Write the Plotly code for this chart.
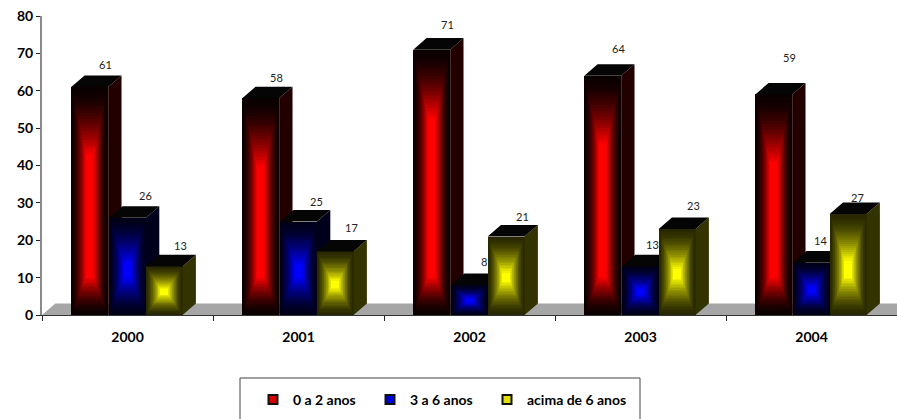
import plotly.graph_objects as go

years = ["2000", "2001", "2002", "2003", "2004"]
series_names = ["0 a 2 anos", "3 a 6 anos", "acima de 6 anos"]
age_0_2 = [61, 58, 71, 64, 59]
age_3_6 = [26, 25, 8, 13, 14]
age_6_up = [13, 17, 21, 23, 27]
y_ticks = [0, 10, 20, 30, 40, 50, 60, 70, 80]

# styling
all_values = [age_0_2, age_3_6, age_6_up]
ramps = [
    [(10, 0, 0), (255, 0, 0)],
    [(0, 0, 25), (0, 0, 255)],
    [(40, 40, 0), (255, 255, 0)],
]
side_colors = ["#220000", "#00001c", "#333300"]
top_color = "#050505"
OFFSETS = [-0.221, 0.0, 0.214]   # bar centre from category centre
BAR_W = 0.216
DX, DY = 0.078, 3.1               # pseudo-3D depth, in axis units
LEVELS = 24
LABEL_DX = [0.09, 0.105, 0.095]
LABEL_SHIFT = [
    [1, 1, 0], [0, -1, 3], [4, 3, -1], [6, 1, 2], [16, 1, -4],
]
LABEL_XSHIFT = {(4, 2): -7, (4, 1): -9, (3, 1): -6, (2, 1): -3}
LEGEND_WIDTHS = [72, 72, 115]

fig = go.Figure()
cx = [i + 0.5 for i in range(len(years))]
AX = [("x", "y"), ("x2", "y2"), ("x3", "y3")]

def mix(a, b, t):
    return "rgb(%d,%d,%d)" % tuple(round(a[i] + (b[i] - a[i]) * t) for i in range(3))

for s, vals in enumerate(all_values):
    xa, ya = AX[s]
    xc = [c + OFFSETS[s] for c in cx]
    # front face: nested bars form the glow
    for k in range(LEVELS):
        t = k / (LEVELS - 1)
        low = [min(v * 0.42, 10) * t for v in vals]
        high = [min(v * 0.46, 18) * t for v in vals]
        fig.add_trace(go.Bar(x=xc, y=[v - l - h for v, l, h in zip(vals, low, high)], base=low, xaxis=xa, yaxis=ya,
                             width=BAR_W * (1 - 0.8 * t), marker=dict(color=mix(ramps[s][0], ramps[s][1], t ** 1.6), line=dict(width=0)),
                             showlegend=False, hoverinfo="skip"))
    # side + top faces
    for x0, v in zip(xc, vals):
        xr = x0 + BAR_W / 2
        xl = x0 - BAR_W / 2
        fig.add_trace(go.Scatter(x=[xr, xr + DX, xr + DX, xr, xr], y=[0, DY, v + DY, v, 0], mode="lines", xaxis=xa, yaxis=ya,
                                 fill="toself", fillcolor=side_colors[s], line=dict(width=0),
                                 hoverinfo="skip", showlegend=False))
        fig.add_trace(go.Scatter(x=[xl, xl + DX, xr + DX, xr, xl], y=[v, v + DY, v + DY, v, v], mode="lines", xaxis=xa, yaxis=ya,
                                 fill="toself", fillcolor=top_color, line=dict(width=0),
                                 hoverinfo="skip", showlegend=False))
    # legend entry
    fig.add_trace(go.Scatter(x=[None], y=[None], mode="markers", name=series_names[s], xaxis=xa, yaxis=ya,
                             legendwidth=LEGEND_WIDTHS[s],
                             marker=dict(symbol="square", size=9, color=mix(ramps[s][0], ramps[s][1], 0.85),
                                         line=dict(color="#111", width=2))))

# data labels
for s, vals in enumerate(all_values):
    for i, v in enumerate(vals):
        fig.add_annotation(x=cx[i] + OFFSETS[s] + LABEL_DX[s], y=v + DY, text=str(v), showarrow=False,
                           xshift=LABEL_XSHIFT.get((i, s), 0),
                           yanchor="bottom", yshift=1 + LABEL_SHIFT[i][s], font=dict(family="Lato", size=11, color="#222"))

# floor
fig.add_shape(type="path", xref="x", yref="y", path=f"M 0 0 L {DX} {DY} L 5 {DY} L 5 0 Z",
              fillcolor="#a6a6a6", line=dict(width=0), layer="below")
# legend frame
fig.add_shape(type="rect", xref="paper", yref="paper", x0=198 / 855, x1=598 / 855,
              y0=(315 - 430) / 299, y1=(315 - 378) / 299, line=dict(color="#444", width=1), fillcolor="white", layer="below")

fig.update_layout(
    width=897, height=419, margin=dict(l=42, r=0, t=16, b=104),
    paper_bgcolor="white", plot_bgcolor="rgba(0,0,0,0)", barmode="overlay", bargap=0,
    font=dict(family="Lato", color="black"),
    xaxis=dict(range=[0, 5], tickmode="array", tickvals=cx, ticktext=years, ticks="", ticklen=0,
               tickfont=dict(family="Lato", size=14, weight="bold"), showgrid=False, zeroline=False,
               showline=True, linecolor="#333", linewidth=1, ticklabelstandoff=9,
               minor=dict(tickmode="array", tickvals=list(range(6)), ticks="outside", ticklen=5, tickcolor="#222", tickwidth=1, showgrid=False)),
    yaxis=dict(range=[0, 80], tickmode="array", tickvals=y_ticks, ticks="outside", ticklen=4, tickcolor="#222",
               tickfont=dict(family="Lato", size=14, weight="bold"), showgrid=False, zeroline=False,
               showline=True, linecolor="#8a8a8a", linewidth=2),
    xaxis2=dict(overlaying="x", matches="x", visible=False),
    yaxis2=dict(overlaying="y", matches="y", visible=False),
    xaxis3=dict(overlaying="x", matches="x", visible=False),
    yaxis3=dict(overlaying="y", matches="y", visible=False),
    legend=dict(orientation="h", xanchor="left", yanchor="middle", x=211 / 855, y=(315 - 400) / 299,
                itemwidth=30, bgcolor="rgba(0,0,0,0)",
                font=dict(family="Lato", size=14, weight="bold"), itemclick=False, itemdoubleclick=False),
)

fig.write_html("out.html", config=dict(displayModeBar=False), post_script="document.body.style.margin='0';")
